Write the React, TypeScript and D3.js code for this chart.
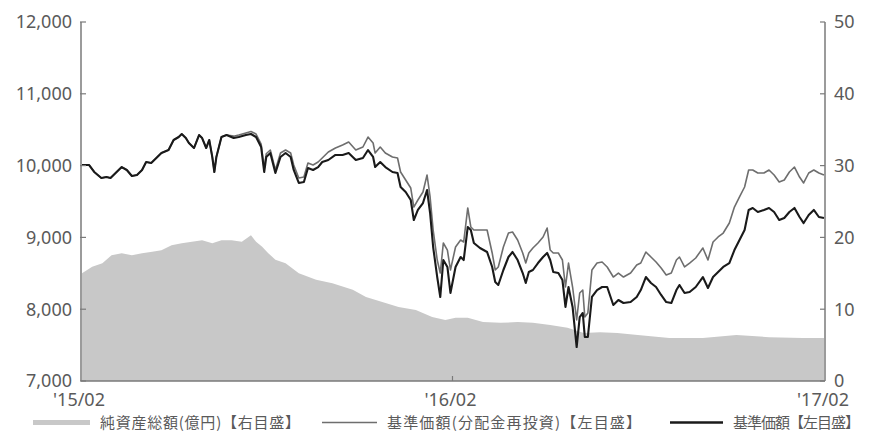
import React from 'react';
import * as d3 from 'd3';

// 基準価額 / 基準価額(分配金再投資) sample dates
const lineDates = [
  "2015-02-02","2015-02-09","2015-02-14","2015-02-21","2015-02-26","2015-03-02","2015-03-07","2015-03-13","2015-03-18","2015-03-23",
  "2015-03-28","2015-04-02","2015-04-06","2015-04-11","2015-04-16","2015-04-21","2015-04-28","2015-05-03","2015-05-08","2015-05-11",
  "2015-05-15","2015-05-18","2015-05-23","2015-05-28","2015-05-31","2015-06-04","2015-06-07","2015-06-10","2015-06-12","2015-06-14",
  "2015-06-19","2015-06-24","2015-07-01","2015-07-06","2015-07-13","2015-07-18","2015-07-23","2015-07-28","2015-07-31","2015-08-02",
  "2015-08-06","2015-08-11","2015-08-16","2015-08-21","2015-08-26","2015-08-29","2015-09-03","2015-09-08","2015-09-12","2015-09-17",
  "2015-09-22","2015-09-26","2015-10-02","2015-10-09","2015-10-16","2015-10-22","2015-10-29","2015-11-05","2015-11-10","2015-11-15",
  "2015-11-17","2015-11-22","2015-11-27","2015-12-04","2015-12-09","2015-12-12","2015-12-17","2015-12-22","2015-12-25","2015-12-29",
  "2016-01-03","2016-01-07","2016-01-10","2016-01-13","2016-01-17","2016-01-20","2016-01-23","2016-01-27","2016-01-30","2016-02-04",
  "2016-02-09","2016-02-12","2016-02-16","2016-02-19","2016-02-22","2016-02-28","2016-03-06","2016-03-11","2016-03-14","2016-03-17",
  "2016-03-22","2016-03-27","2016-03-31","2016-04-05","2016-04-10","2016-04-13","2016-04-16","2016-04-20","2016-04-25","2016-04-30",
  "2016-05-04","2016-05-07","2016-05-10","2016-05-15","2016-05-19","2016-05-22","2016-05-25","2016-05-29","2016-06-02","2016-06-05",
  "2016-06-08","2016-06-10","2016-06-13","2016-06-17","2016-06-22","2016-06-27","2016-07-02","2016-07-08","2016-07-13","2016-07-18",
  "2016-07-25","2016-07-31","2016-08-04","2016-08-09","2016-08-14","2016-08-19","2016-08-24","2016-08-29","2016-09-03","2016-09-08",
  "2016-09-11","2016-09-16","2016-09-21","2016-09-27","2016-10-04","2016-10-09","2016-10-14","2016-10-19","2016-10-24","2016-10-30",
  "2016-11-04","2016-11-09","2016-11-14","2016-11-18","2016-11-22","2016-11-27","2016-12-03","2016-12-08","2016-12-13","2016-12-18",
  "2016-12-23","2016-12-28","2017-01-02","2017-01-07","2017-01-11","2017-01-16","2017-01-21","2017-01-26","2017-01-31"
];

// 基準価額【左目盛】
const navValues = [
  10008,10008,9911,9827,9841,9827,9897,9980,9939,9855,
  9869,9939,10050,10036,10106,10175,10217,10357,10398,10440,
  10384,10315,10245,10426,10384,10245,10357,10120,9911,10120,
  10398,10426,10384,10398,10426,10440,10398,10259,9911,10120,
  10175,9897,10120,10175,10120,9939,9758,9772,9967,9939,
  9980,10050,10078,10148,10148,10175,10078,10106,10217,10120,
  9980,10050,9980,9911,9897,9702,9632,9521,9242,9382,
  9479,9660,9340,8866,8448,8170,8685,8588,8226,8588,
  8727,8685,9145,9103,8922,8852,8797,8588,8379,8337,
  8546,8727,8797,8685,8504,8365,8518,8546,8643,8727,
  8783,8685,8518,8504,8407,8031,8309,8031,7473,7891,
  7947,7613,7613,8170,8267,8309,8309,8058,8128,8086,
  8100,8170,8267,8448,8365,8309,8198,8100,8086,8267,
  8337,8226,8240,8309,8448,8295,8448,8518,8588,8643,
  8824,8964,9103,9382,9410,9354,9382,9410,9354,9242,
  9270,9354,9410,9284,9200,9312,9382,9284,9270
];

// 基準価額(分配金再投資)【左目盛】
const navReinvestValues = [
  10008,10008,9911,9827,9841,9827,9897,9980,9939,9855,
  9869,9939,10050,10036,10106,10175,10217,10357,10398,10440,
  10384,10315,10245,10426,10384,10245,10357,10120,9911,10120,
  10398,10426,10410,10425,10455,10475,10440,10300,9955,10165,
  10217,9939,10175,10217,10175,10008,9827,9841,10036,10008,
  10050,10106,10189,10245,10287,10329,10217,10259,10398,10315,
  10175,10259,10175,10120,10106,9911,9800,9688,9423,9521,
  9632,9869,9563,9103,8685,8504,8922,8824,8546,8866,
  8964,8936,9410,9145,9103,9103,9103,8783,8546,8588,
  8866,9061,9075,8964,8783,8643,8783,8852,8922,9006,
  9131,8824,8783,8783,8685,8309,8643,8309,7850,8226,
  8267,7891,7947,8546,8643,8657,8588,8448,8504,8448,
  8504,8615,8643,8797,8727,8657,8574,8476,8504,8685,
  8727,8588,8643,8713,8852,8685,8936,9006,9061,9200,
  9423,9563,9702,9939,9939,9897,9897,9939,9869,9772,
  9800,9911,9980,9841,9758,9897,9939,9897,9869
];

// 純資産総額(億円)【右目盛】
const aumDates = [
  "2015-02-02","2015-02-12","2015-02-22","2015-03-03","2015-03-13","2015-03-23","2015-04-02","2015-04-12","2015-04-21","2015-05-01",
  "2015-05-11","2015-05-21","2015-05-31","2015-06-10","2015-06-19","2015-06-29","2015-07-09","2015-07-18","2015-07-23","2015-07-29",
  "2015-08-04","2015-08-11","2015-08-21","2015-09-03","2015-09-20","2015-10-06","2015-10-26","2015-11-08","2015-11-24","2015-12-10",
  "2015-12-27","2016-01-12","2016-01-25","2016-02-04","2016-02-16","2016-03-02","2016-03-19","2016-04-05","2016-04-20","2016-05-07",
  "2016-05-24","2016-06-09","2016-06-25","2016-07-12","2016-08-01","2016-09-01","2016-10-04","2016-11-06","2016-12-08","2017-01-10",
  "2017-01-31"
];
const aumValues = [
  15.0,15.9,16.4,17.5,17.8,17.5,17.8,18.0,18.2,18.9,
  19.2,19.4,19.6,19.2,19.6,19.6,19.4,20.3,19.4,18.7,
  17.8,16.9,16.4,15.0,14.1,13.6,12.7,11.7,11.0,10.3,
  9.9,8.9,8.5,8.8,8.8,8.2,8.1,8.2,8.1,7.8,
  7.4,6.7,6.8,6.7,6.4,6.0,6.0,6.4,6.1,6.0,
  6.0
];

const leftTicks = [7000, 8000, 9000, 10000, 11000, 12000];
const rightTicks = [0, 10, 20, 30, 40, 50];
const xTickDates = ["2015-02-01", "2016-02-01", "2017-02-01"];
const xTickLabels = ["'15/02", "'16/02", "'17/02"];
const legendLabels = ["純資産総額(億円)【右目盛】", "基準価額(分配金再投資)【左目盛】", "基準価額【左目盛】"];

export default function App() {
  const W = 870, H = 436;
  const L = 81, R = 825, T = 22, B = 381;
  const parse = d3.timeParse("%Y-%m-%d");
  const x = d3.scaleTime().domain([parse("2015-02-01")!, parse("2017-02-01")!]).range([L, R]);
  const yL = d3.scaleLinear().domain([7000, 12000]).range([B, T]);
  const yR = d3.scaleLinear().domain([0, 50]).range([B, T]);
  const fmt = d3.format(",");

  const lineData = lineDates.map((d, i) => ({ d: parse(d)!, nav: navValues[i], re: navReinvestValues[i] }));
  const aumData = aumDates.map((d, i) => ({ d: parse(d)!, v: aumValues[i] }));

  const area = d3.area<any>().x(p => x(p.d)).y0(B).y1(p => yR(p.v));
  const navLine = d3.line<any>().x(p => x(p.d)).y(p => yL(p.nav));
  const reLine = d3.line<any>().x(p => x(p.d)).y(p => yL(p.re));

  const axisColor = "#7a7a7a";
  const textColor = "#5a5a5a";
  const numFont = "'Noto Sans', sans-serif";
  const jpFont = "'Noto Sans CJK JP', sans-serif";

  return (
    <svg width={W} height={H} style={{ position: 'absolute', left: 0, top: 0, background: '#fff' }}>
      <path d={area(aumData) || ''} fill="#c8c8c8" />
      <path d={reLine(lineData) || ''} fill="none" stroke="#6e6e6e" strokeWidth={1.6} strokeLinejoin="round" />
      <path d={navLine(lineData) || ''} fill="none" stroke="#1a1a1a" strokeWidth={2.1} strokeLinejoin="round" />

      {/* axes */}
      <line x1={L} x2={L} y1={T} y2={B} stroke={axisColor} strokeWidth={1.5} />
      <line x1={R} x2={R} y1={T} y2={B} stroke={axisColor} strokeWidth={1.5} />
      <line x1={L} x2={R} y1={B} y2={B} stroke={axisColor} strokeWidth={1.5} />

      {leftTicks.map(t => (
        <g key={'l' + t}>
          <line x1={L - 1} x2={L + 5} y1={yL(t)} y2={yL(t)} stroke={axisColor} strokeWidth={1.2} />
          <text x={72} y={yL(t)} dy="0.36em" textAnchor="end" fontFamily={numFont} fontSize={18} fill={textColor}>{fmt(t)}</text>
        </g>
      ))}
      {rightTicks.map(t => (
        <g key={'r' + t}>
          <line x1={R - 5} x2={R} y1={yR(t)} y2={yR(t)} stroke={axisColor} strokeWidth={1.2} />
          <text x={834} y={yR(t)} dy="0.36em" textAnchor="start" fontFamily={numFont} fontSize={18} fill={textColor}>{t}</text>
        </g>
      ))}
      {xTickDates.map((d, i) => (
        <g key={'x' + d}>
          {i === 1 && <line x1={x(parse(d)!)} x2={x(parse(d)!)} y1={B} y2={B - 5} stroke={axisColor} strokeWidth={1.2} />}
          <text x={x(parse(d)!) - 2} y={406} textAnchor="middle" fontFamily={numFont} fontSize={18} fill={textColor}>{xTickLabels[i]}</text>
        </g>
      ))}

      {/* legend */}
      <rect x={33} y={420} width={57} height={5} fill="#c8c8c8" />
      <text x={100} y={428} fontFamily={jpFont} fontSize={15} fill={textColor} textLength={200} lengthAdjust="spacing">{legendLabels[0]}</text>
      <line x1={322} x2={377} y1={422.5} y2={422.5} stroke="#6e6e6e" strokeWidth={1.6} />
      <text x={387} y={428} fontFamily={jpFont} fontSize={15} fill={textColor} textLength={254} lengthAdjust="spacing">{legendLabels[1]}</text>
      <line x1={670} x2={723} y1={422.5} y2={422.5} stroke="#1a1a1a" strokeWidth={2.4} />
      <text x={733} y={428} fontFamily={jpFont} fontSize={15} fill={textColor} textLength={127} lengthAdjust="spacing">{legendLabels[2]}</text>
    </svg>
  );
}
